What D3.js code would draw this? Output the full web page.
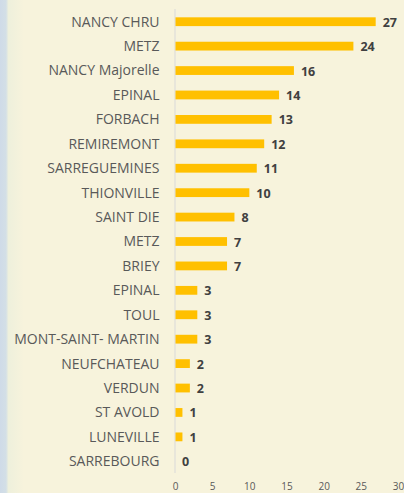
<!DOCTYPE html>
<html><head><meta charset="utf-8">
<script src="https://cdn.jsdelivr.net/npm/d3@7/dist/d3.min.js"></script>
<style>html,body{margin:0;padding:0;background:#f7f3dc;overflow:hidden}</style>
</head><body>
<script>
const categories = ["NANCY CHRU","METZ","NANCY Majorelle","EPINAL","FORBACH","REMIREMONT","SARREGUEMINES","THIONVILLE","SAINT DIE","METZ","BRIEY","EPINAL","TOUL","MONT-SAINT- MARTIN","NEUFCHATEAU","VERDUN","ST AVOLD","LUNEVILLE","SARREBOURG"];
const values = [27,24,16,14,13,12,11,10,8,7,7,3,3,3,2,2,1,1,0];
const xTicks = [0,5,10,15,20,25,30];

const W = 404, H = 493;
const svg = d3.select("body").append("svg").attr("width", W).attr("height", H);
const defs = svg.append("defs");
const grad = defs.append("linearGradient").attr("id","lg").attr("x1","0").attr("x2","1");
grad.append("stop").attr("offset","0%").attr("stop-color","#cfdbe8");
grad.append("stop").attr("offset","25%").attr("stop-color","#d3dfe6");
grad.append("stop").attr("offset","35%").attr("stop-color","#eef0dc");
grad.append("stop").attr("offset","100%").attr("stop-color","#f7f3dc");
svg.append("rect").attr("width",W).attr("height",H).attr("fill","#f7f3dc");
svg.append("rect").attr("width",24).attr("height",H).attr("fill","url(#lg)");

const ids = categories.map((c,i)=>i);
const x = d3.scaleLinear().domain([0,30]).range([175,398]);
const y = d3.scaleBand().domain(ids).range([9.5,473.5]).paddingInner(0.64).paddingOuter(0.32);

// axis line
svg.append("line").attr("x1",x(0)).attr("x2",x(0)).attr("y1",9).attr("y2",473)
  .attr("stroke","#d9d9d9").attr("stroke-width",1);

svg.selectAll("rect.bar").data(values).enter().append("rect").attr("class","bar")
  .attr("x", x(0)+0.5).attr("y",(d,i)=>y(i)).attr("height",y.bandwidth())
  .attr("width",d=>Math.max(0,x(d)-x(0)-0.5)).attr("fill","#ffc000");

svg.selectAll("text.cat").data(categories).enter().append("text").attr("class","cat")
  .attr("x",159.5).attr("y",(d,i)=>y(i)+y.bandwidth()/2).attr("dy","0.35em")
  .attr("text-anchor","end").attr("font-family","'Open Sans', sans-serif").attr("font-size","14px")
  .attr("fill","#595959").text(d=>d);

svg.selectAll("text.val").data(values).enter().append("text").attr("class","val")
  .attr("x",d=>x(d)+7).attr("y",(d,i)=>y(i)+y.bandwidth()/2).attr("dy","0.4em")
  .attr("font-family","'Open Sans', sans-serif").attr("font-weight","bold").attr("font-size","12.5px")
  .attr("fill","#404040").text(d=>d);

const xa = svg.append("g").attr("transform","translate(0,474)")
  .call(d3.axisBottom(x).tickValues(xTicks).tickSize(0).tickPadding(0));
xa.select(".domain").remove();
xa.selectAll("text").attr("y",15.5).attr("dy",null).attr("font-family","'Open Sans', sans-serif").attr("font-size","10px").attr("fill","#595959");
</script>
</body></html>
